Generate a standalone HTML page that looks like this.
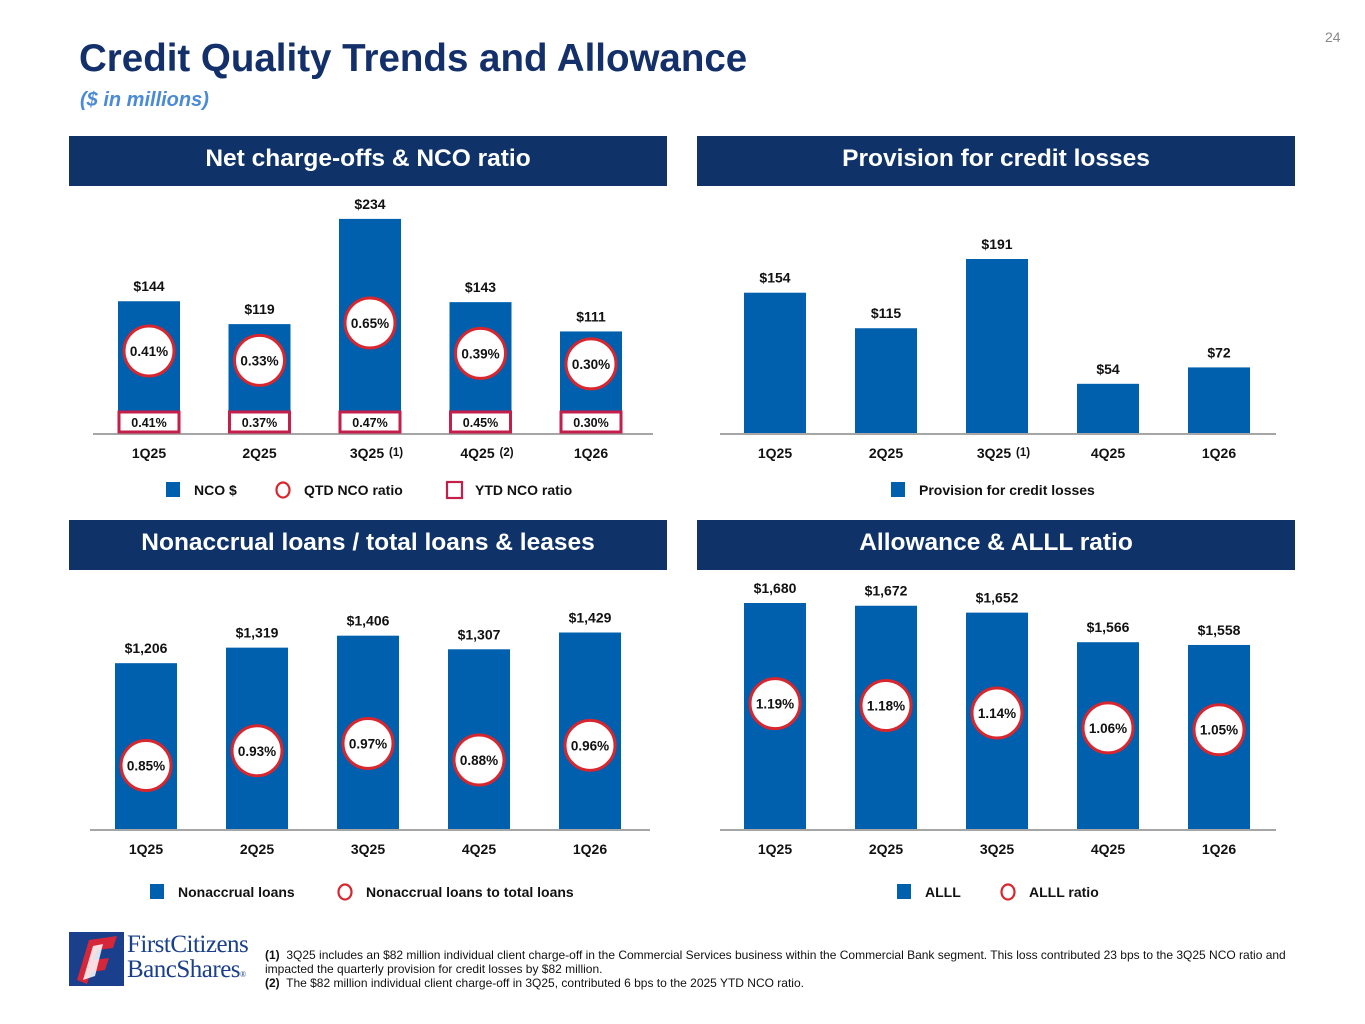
<!DOCTYPE html>
<html><head><meta charset="utf-8">
<style>
html,body{margin:0;padding:0;background:#fff;}
body{width:1365px;height:1024px;position:relative;overflow:hidden;font-family:"Liberation Sans",Arial,sans-serif;}
#page-title{position:absolute;left:79px;top:37px;font-size:38.5px;font-weight:bold;color:#13306b;margin:0;}
#subtitle{position:absolute;left:80px;top:89px;font-size:20px;font-weight:bold;font-style:italic;color:#4a8ad6;}
#pnum{position:absolute;left:1325px;top:29px;font-size:14px;color:#888;}
.hdr{position:absolute;height:50px;width:598px;background:#0f3368;color:#fff;font-size:24.5px;font-weight:bold;text-align:center;line-height:46px;}
svg{position:absolute;left:0;top:0;}
#foot{position:absolute;left:265px;top:948px;font-size:12px;color:#111;line-height:14px;width:1060px;}
</style></head><body>
<div id="pnum">24</div>
<h1 id="page-title">Credit Quality Trends and Allowance</h1>
<div id="subtitle">($ in millions)</div>
<div class="hdr" style="left:69px;top:136px">Net charge-offs &amp; NCO ratio</div>
<div class="hdr" style="left:697px;top:136px">Provision for credit losses</div>
<div class="hdr" style="left:69px;top:520px">Nonaccrual loans / total loans &amp; leases</div>
<div class="hdr" style="left:697px;top:520px">Allowance &amp; ALLL ratio</div>
<svg id="charts" width="1365" height="1024"></svg>
<div id="logo" style="position:absolute;left:69px;top:930px;width:180px;height:56px;">
<svg width="55" height="56" style="position:absolute;left:0;top:0"><rect x="0" y="2" width="55" height="54" fill="#1a3f8c"/><polygon points="8,50 20,10 48,6 44,18 28,20 24,30 40,28 36,40 22,42 18,54" fill="#d6263a"/><polygon points="14,50 24,16 34,14 26,46" fill="#fff" opacity="0.85"/></svg>
<div style="position:absolute;left:58px;top:2px;font-family:'Liberation Serif',serif;font-size:25px;line-height:25px;color:#1a3f8c;letter-spacing:-0.5px">FirstCitizens<br>BancShares<span style="font-size:8px">®</span></div>
</div>
<div id="foot"><b>(1)</b>&nbsp; 3Q25 includes an $82 million individual client charge-off in the Commercial Services business within the Commercial Bank segment. This loss contributed 23 bps to the 3Q25 NCO ratio and impacted the quarterly provision for credit losses by $82 million.<br><b>(2)</b>&nbsp; The $82 million individual client charge-off in 3Q25, contributed 6 bps to the 2025 YTD NCO ratio.</div>
<script>
const quarters=["1Q25","2Q25","3Q25","4Q25","1Q26"];
const quarterNotes=["","","(1)","(2)",""];
const provNotes=["","","(1)","",""];
const ncoValues=[144,119,234,143,111];
const ncoQtd=[0.41,0.33,0.65,0.39,0.30];
const ncoYtd=[0.41,0.37,0.47,0.45,0.30];
const provValues=[154,115,191,54,72];
const nonaccValues=[1206,1319,1406,1307,1429];
const nonaccRatio=[0.85,0.93,0.97,0.88,0.96];
const alllValues=[1680,1672,1652,1566,1558];
const alllRatio=[1.19,1.18,1.14,1.06,1.05];

const NS="http://www.w3.org/2000/svg";
const svg=document.getElementById('charts');
const BLUE="#0060ad",RED="#d8262f",YTDC="#c41e4a";
function mk(tag,attrs,parent){const e=document.createElementNS(NS,tag);for(const k in attrs)e.setAttribute(k,attrs[k]);(parent||svg).appendChild(e);return e;}
function txt(x,y,s,size,anchor,parent){const t=mk('text',{x:x,y:y,'font-size':size||14,'font-weight':'bold','text-anchor':anchor||'middle','font-family':'Liberation Sans, Arial, sans-serif',fill:'#111'},parent);t.textContent=s;return t;}
function fmt(v){return '$'+v.toLocaleString('en-US');}

function panel(opt){
  const g=mk('g',{});
  
  
  const xs=i=>opt.x0+i*opt.step;
  const ys=v=>opt.base-(v-opt.min)*opt.scale;
  const ax=mk('line',{x1:opt.axisL,x2:opt.axisR,y1:opt.base+1,y2:opt.base+1,stroke:'#a6a6a6','stroke-width':2},g);
  
  
  opt.values.forEach((v,i)=>{
    const x=xs(i),y=ys(v);
    const r=mk('rect',{x:x-31,y:y,width:62,height:opt.base-y,fill:BLUE},g);
    
    
    const l=txt(x,y-10,fmt(v),14,'middle',g);
    
    
    const q=txt(x,opt.base+25,quarters[i],14,'middle',g);
    
    
    if(opt.notes&&opt.notes[i]){const n=txt(x+19,opt.base+23,opt.notes[i],11.5,'start',g);q.setAttribute('x',x-3);}
    if(opt.ratio){
      const cy=opt.rA-opt.rB*opt.ratio[i];
      const c=mk('ellipse',{cx:x,cy:cy,rx:25,ry:25,fill:'#fff',stroke:RED,'stroke-width':3},g);
      
      
      const ct=txt(x,cy+5,opt.ratio[i].toFixed(2)+'%',13.5,'middle',g);
      
      
    }
    if(opt.ytd){
      const b=mk('rect',{x:x-30,y:opt.base-21,width:60,height:20,fill:'#fff',stroke:YTDC,'stroke-width':3},g);
      
      
      const bt=txt(x,opt.base-6,opt.ytd[i].toFixed(2)+'%',12.5,'middle',g);
      
      
    }
  });
  let lx=opt.legX;
  opt.legend.forEach(it=>{
    const lg=mk('g',{},g);
    
    
    if(it.t==='bar')mk('rect',{x:lx,y:opt.legY-8,width:14,height:15,fill:BLUE},lg);
    else if(it.t==='circ')mk('ellipse',{cx:lx+7,cy:opt.legY,rx:6.5,ry:7.5,fill:'none',stroke:RED,'stroke-width':2.2},lg);
    else mk('rect',{x:lx,y:opt.legY-8,width:15,height:16,fill:'none',stroke:YTDC,'stroke-width':2.2},lg);
    txt(lx+it.o,opt.legY+5,it.s,14,'start',lg);
    lx+=it.w;
  });
}
panel({name:'nco-chart',values:ncoValues,ratio:ncoQtd,ytd:ncoYtd,x0:149,step:110.5,base:433,min:0,scale:0.915,axisL:93,axisR:653,rA:399,rB:117,notes:quarterNotes,
 legX:166,legY:490,legend:[{t:'bar',s:'NCO $',o:28,w:110},{t:'circ',s:'QTD NCO ratio',o:28,w:171},{t:'box',s:'YTD NCO ratio',o:28,w:150}]});
panel({name:'provision-chart',values:provValues,x0:775,step:111,base:433,min:0,scale:0.911,axisL:720,axisR:1276,notes:provNotes,
 legX:891,legY:490,legend:[{t:'bar',s:'Provision for credit losses',o:28,w:220}]});
panel({name:'nonaccrual-chart',values:nonaccValues,ratio:nonaccRatio,x0:146,step:111,base:829,min:0,scale:0.1375,axisL:90,axisR:650,rA:921,rB:183,
 legX:150,legY:892,legend:[{t:'bar',s:'Nonaccrual loans',o:28,w:188},{t:'circ',s:'Nonaccrual loans to total loans',o:28,w:280}]});
panel({name:'allowance-chart',values:alllValues,ratio:alllRatio,x0:775,step:111,base:829,min:1023,scale:0.344,axisL:720,axisR:1276,rA:925,rB:186,
 legX:897,legY:892,legend:[{t:'bar',s:'ALLL',o:28,w:104},{t:'circ',s:'ALLL ratio',o:28,w:120}]});
</script>
</body></html>
